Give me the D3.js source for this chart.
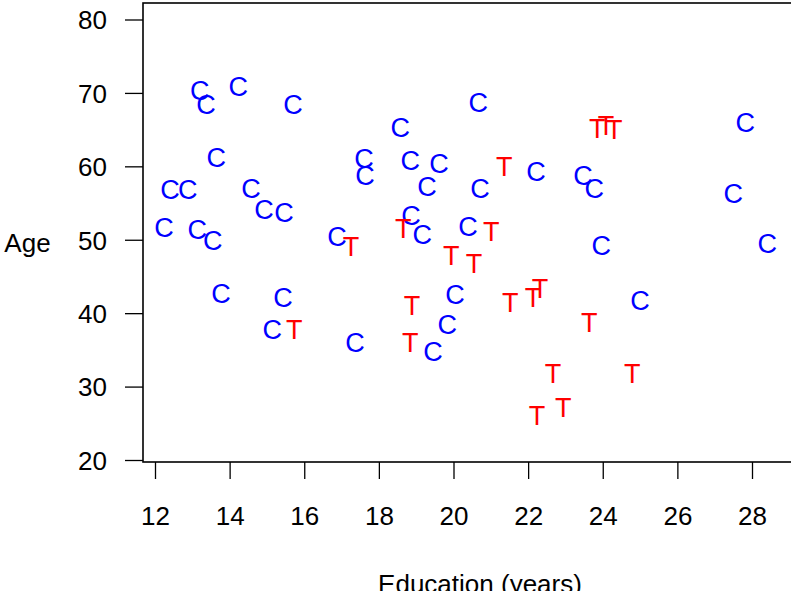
<!DOCTYPE html>
<html><head><meta charset="utf-8">
<script src="https://cdn.jsdelivr.net/npm/d3@7"></script>
<style>body{margin:0;background:#fff;} text{font-family:"Liberation Sans",Arial,sans-serif;}</style>
</head><body>
<svg id="chart" width="791" height="591"></svg>
<script>
// Control group (C): education years, age
const controlEdu = [13.2,13.37,14.23,15.7,13.64,12.4,12.88,14.57,14.92,15.46,12.24,13.13,13.55,13.77,15.43,15.14,17.36,16.88,17.6,17.63,18.57,18.84,19.61,19.29,18.86,19.16,20.39,20.66,20.71,20.04,19.83,19.45,22.21,23.47,23.77,23.96,25.0,27.82,27.5,28.41];
const controlAge = [70.3,68.4,70.9,68.4,61.2,56.9,56.9,57.0,54.1,53.7,51.7,51.4,49.9,42.7,42.2,37.8,36.1,50.5,61.1,58.8,65.3,60.8,60.4,57.3,53.3,50.7,51.8,68.7,57.0,42.6,38.5,34.8,59.3,58.8,57.0,49.3,41.8,66.0,56.3,49.5];
// Treatment group (T)
const treatEdu = [17.25,15.73,18.65,18.89,18.84,19.94,20.55,21.01,21.36,21.52,22.13,22.32,23.64,22.67,24.79,22.94,22.24,23.85,24.09,24.31];
const treatAge = [49.1,37.8,51.6,41.1,36.1,47.9,46.8,51.2,60.0,41.5,42.2,43.4,38.8,31.8,31.8,27.2,26.1,65.2,65.6,65.0];
const xTicks = [12,14,16,18,20,22,24,26,28];
const yTicks = [20,30,40,50,60,70,80];
const xLabel = "Education (years)";
const yLabel = "Age";

const svg = d3.select("#chart");
const x = d3.scaleLinear().domain([12,28]).range([155,752]);
const y = d3.scaleLinear().domain([20,80]).range([460,19.5]);
const boxL = 143, boxT = 3, boxB = 462, boxR = 840;

const fs = 26;
const font = "Liberation Sans, Arial, sans-serif";
// y axis
const ya = svg.append("g").attr("transform",`translate(${boxL},0)`)
  .call(d3.axisLeft(y).tickValues(yTicks).tickSize(18).tickPadding(18).tickFormat(d3.format("d")));
ya.select(".domain").remove();
ya.selectAll("line").attr("stroke","#000").attr("stroke-width",1.3);
ya.selectAll("text").attr("font-size",fs).attr("fill","#000").attr("font-family",font).attr("dy","0.36em");
// x axis
const xa = svg.append("g").attr("transform",`translate(0,${boxB})`)
  .call(d3.axisBottom(x).tickValues(xTicks).tickSize(17).tickPadding(20).tickFormat(d3.format("d")));
xa.select(".domain").remove();
xa.selectAll("line").attr("stroke","#000").attr("stroke-width",1.3);
xa.selectAll("text").attr("font-size",fs).attr("fill","#000").attr("font-family",font)
  .attr("y",54).attr("dy","0.36em");

// box
svg.append("rect").attr("x",boxL).attr("y",boxT).attr("width",boxR-boxL).attr("height",boxB-boxT)
  .attr("fill","none").attr("stroke","#000").attr("stroke-width",1.6);

// labels
svg.append("text").attr("x",27.5).attr("y",243).attr("text-anchor","middle").attr("dy","0.36em")
  .attr("font-size",fs).text(yLabel);
svg.append("text").attr("x",480).attr("y",584).attr("text-anchor","middle").attr("dy","0.36em")
  .attr("font-size",fs).text(xLabel);

const control = controlEdu.map((e,i)=>({e,a:controlAge[i]}));
const treat = treatEdu.map((e,i)=>({e,a:treatAge[i]}));
const ls = 27;
svg.append("g").selectAll("text").data(control).join("text")
  .attr("x",d=>x(d.e)).attr("y",d=>y(d.a)).attr("text-anchor","middle").attr("dy","0.36em")
  .attr("font-size",ls).attr("fill","#0000FF").text("C");
svg.append("g").selectAll("text").data(treat).join("text")
  .attr("x",d=>x(d.e)).attr("y",d=>y(d.a)).attr("text-anchor","middle").attr("dy","0.36em")
  .attr("font-size",ls).attr("fill","#FF0000").text("T");
</script>
</body></html>
